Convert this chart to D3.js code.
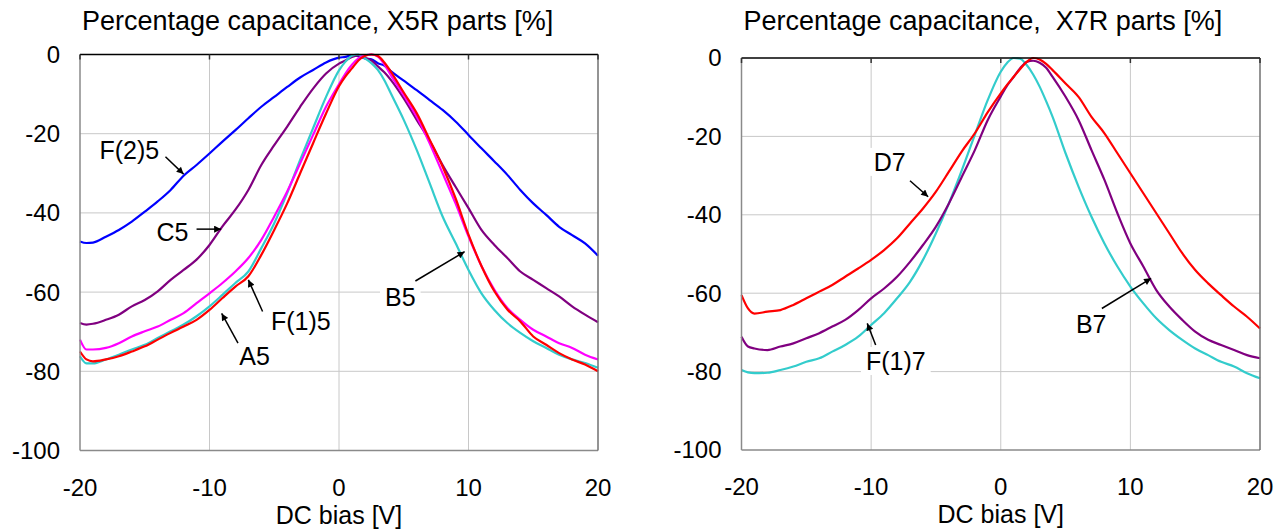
<!DOCTYPE html>
<html>
<head>
<meta charset="utf-8">
<script src="https://cdn.jsdelivr.net/npm/d3@7/dist/d3.min.js"></script>
<style>
  html, body { margin: 0; padding: 0; background: #fff; }
  svg { display: block; }
  text { font-family: "Liberation Sans", Arial, sans-serif; fill: #000; white-space: pre; }
</style>
</head>
<body>
<svg id="chart" width="1286" height="529"></svg>
<script>
// ---------------- DATA ----------------
const bias = [-20,-19.5,-19,-18,-17,-16,-15,-14,-13,-12,-11,-10,-9,-8,-7,-6,-5,-4,-3,-2,-1,
  0,0.5,1,1.5,2,2.5,3,3.5,4,5,6,7,8,9,10,11,12,13,14,15,16,17,18,19,20];

const xTicks = [-20,-10,0,10,20];
const yTicks = [0,-20,-40,-60,-80,-100];

const titleX5R = "Percentage capacitance, X5R parts [%]";
const titleX7R = "Percentage capacitance,  X7R parts [%]";
const xAxisTitle = "DC bias [V]";

// X5R parts
const f25 = [-47.2,-47.6,-47.5,-46,-44.3,-42.2,-39.7,-37.1,-34.2,-30.6,-27.9,-25,-22,-19.1,-16.1,-13.2,-10.7,-8.2,-5.8,-3.9,-2,
  -0.8,-0.6,-0.2,-0.4,-1.0,-1.2,-2.2,-2.8,-4.2,-6.6,-9,-11.5,-14,-16.9,-20.3,-23.7,-27,-30.4,-34.2,-37.6,-40.5,-43.5,-45.6,-47.7,-50.8];
const c5 = [-67.8,-68.2,-68,-67,-65.7,-63.6,-62,-59.8,-56.9,-54.4,-51.8,-48.1,-43.4,-39.2,-34.2,-27.9,-22.9,-18.2,-13.2,-8.6,-4.8,
  -2.3,-1.5,-0.6,-0.3,-0.8,-1.5,-3,-4.5,-6.4,-11.1,-16.5,-21.8,-27.9,-33.4,-38.8,-44.3,-48.1,-51.4,-54.8,-56.9,-59,-61.1,-63.6,-65.7,-67.6];
const b5 = [-76.2,-78,-78,-77,-75.8,-74.5,-73.3,-71.6,-69.9,-68.2,-66.1,-63.6,-60.7,-57.7,-54.8,-48.9,-42.6,-35,-26.6,-18.6,-10.7,
  -4,-1.8,-0.3,0,-1,-2.2,-3.9,-6.5,-9.8,-16.5,-24.1,-32.5,-40.9,-47.6,-54.4,-60.3,-64.5,-67.8,-70.3,-72.4,-74.1,-75.8,-77,-77.9,-79.1];
const f15 = [-72,-74.5,-74.5,-74.1,-72.9,-71.2,-69.9,-68.7,-67,-65.3,-62.8,-60.3,-57.7,-54.8,-51.4,-46.8,-40.9,-34.6,-27.5,-20.3,-13.2,
  -7.5,-4.8,-2.6,-1,-0.2,0,-0.5,-2.5,-5.2,-10.3,-15.7,-22.4,-30,-37.6,-45.9,-53.4,-59.4,-64,-67,-69.5,-71.2,-72.9,-74.1,-75.8,-77];
const a5 = [-75,-77,-77.5,-77,-76.2,-75,-73.7,-72,-70.3,-68.7,-67,-64.5,-61.5,-58.6,-56,-50.6,-44.3,-37.6,-30,-22.4,-14.9,
  -8,-5.5,-3.5,-1.5,-0.4,0,-0.4,-2,-4.3,-9.6,-14.8,-21.5,-28.3,-36.3,-45.5,-53.4,-59.8,-64.4,-67.4,-71.2,-73.3,-75.4,-77,-78.3,-80];

// X7R parts
const d7 = [-60.5,-63.9,-65.2,-64.7,-64.3,-63,-61.3,-59.6,-57.9,-55.8,-53.7,-51.5,-49,-46,-42.2,-38.4,-34.1,-29,-23.8,-19.2,-13.8,
  -9,-6.8,-4.8,-2.8,-1,0,-0.4,-1.5,-3.1,-6.5,-9.9,-15,-19.2,-24.3,-29.4,-34.5,-39.6,-44.7,-49.8,-54.1,-57.5,-60.5,-63.4,-66,-69];
const b7 = [-71.1,-73.6,-74.1,-74.5,-73.6,-72.8,-71.5,-70.2,-68.5,-66.8,-64.3,-61.3,-58.8,-55.8,-52,-47.7,-43,-37.1,-30.3,-23.5,-15.8,
  -9.8,-7,-4.8,-2.6,-1,-0.7,-1.2,-2.5,-4.8,-9.9,-15.8,-23.5,-31.1,-39.6,-47.3,-53.2,-59.2,-63.4,-66.8,-69.8,-71.9,-73.2,-74.5,-75.8,-76.6];
const f17 = [-79.6,-80.2,-80.4,-80.3,-79.6,-78.7,-77.5,-76.6,-74.9,-73.2,-71.1,-68.1,-65.1,-61.3,-57.1,-51.5,-44.7,-37.1,-28.6,-19.6,-10.7,
  -3.5,-1.2,0,-0.2,-1.8,-4.2,-7.3,-11,-15,-24.3,-32.8,-40.5,-47.3,-53.2,-58.3,-62.6,-66.4,-69.4,-71.9,-74.1,-75.8,-77.5,-78.7,-80.4,-81.7];

// annotation labels: text anchor point and arrow (from -> to), in data units
const notesX5R = [
  {label:"F(2)5", tx:-18.5, ty:-26.3, ax1:-13.4, ay1:-25.8, ax2:-12.0, ay2:-30.2},
  {label:"C5",    tx:-14.1, ty:-47.1, ax1:-11.0, ay1:-44.1, ax2:-9.1,  ay2:-44.1},
  {label:"F(1)5", tx:-5.25, ty:-69.6, ax1:-5.9,  ay1:-64.9, ax2:-7.0,  ay2:-56.9},
  {label:"A5",    tx:-7.7,  ty:-78.4, ax1:-7.8,  ay1:-72.9, ax2:-9.06, ay2:-65.4},
  {label:"B5",    tx:3.55,  ty:-63.5, ax1:5.9,   ay1:-57.2, ax2:9.7,   ay2:-49.8}
];
const notesX7R = [
  {label:"D7",    tx:-9.8,  ty:-28.8, ax1:-7.0,  ay1:-31.3, ax2:-5.6,  ay2:-35.4},
  {label:"F(1)7", tx:-10.4, ty:-79.6, ax1:-9.65, ay1:-73.2, ax2:-10.3, ay2:-67.7},
  {label:"B7",    tx:5.8,   ty:-70.2, ax1:7.8,   ay1:-63.9, ax2:11.6,  ay2:-56.2}
];

// ---------------- DRAWING ----------------
const svg = d3.select("#chart");
const defs = svg.append("defs");
defs.append("marker").attr("id","arrow").attr("viewBox","0 0 10 10")
  .attr("refX",10).attr("refY",5).attr("markerWidth",9).attr("markerHeight",7)
  .attr("markerUnits","userSpaceOnUse").attr("orient","auto")
  .append("path").attr("d","M0,0 L10,5 L0,10 z").attr("fill","#000");

function panel(cfg) {
  const x = d3.scaleLinear().domain([-20,20]).range([cfg.x0, cfg.x1]);
  const y = d3.scaleLinear().domain([-100,0]).range([cfg.y1, cfg.y0]);
  const g = svg.append("g");

  // grid
  g.selectAll(".gx").data(xTicks.slice(1,-1)).join("line")
    .attr("x1",d=>x(d)).attr("x2",d=>x(d)).attr("y1",cfg.y0).attr("y2",cfg.y1)
    .attr("stroke","#c8c8c8").attr("stroke-width",1);
  g.selectAll(".gy").data(yTicks.slice(1,-1)).join("line")
    .attr("x1",cfg.x0).attr("x2",cfg.x1).attr("y1",d=>y(d)).attr("y2",d=>y(d))
    .attr("stroke","#c8c8c8").attr("stroke-width",1);

  // series
  const line = d3.line().x((d,i)=>x(bias[i])).y(d=>y(d)).curve(d3.curveMonotoneX);
  cfg.series.forEach(s => {
    g.append("path").datum(s.values).attr("d",line)
      .attr("fill","none").attr("stroke",s.color).attr("stroke-width",2.2)
      .attr("stroke-linejoin","round");
  });

  // frame
  g.append("line").attr("x1",cfg.x0).attr("x2",cfg.x0).attr("y1",cfg.y0).attr("y2",cfg.y1).attr("stroke","#8a8a8a").attr("stroke-width",1.5);
  g.append("line").attr("x1",cfg.x0).attr("x2",cfg.x1).attr("y1",cfg.y1).attr("y2",cfg.y1).attr("stroke","#8a8a8a").attr("stroke-width",1.5);
  g.append("line").attr("x1",cfg.x1).attr("x2",cfg.x1).attr("y1",cfg.y0).attr("y2",cfg.y1).attr("stroke","#707070").attr("stroke-width",1.5);
  g.append("line").attr("x1",cfg.x0).attr("x2",cfg.x1).attr("y1",cfg.y0).attr("y2",cfg.y0).attr("stroke","#000").attr("stroke-width",1.5);
  g.selectAll(".tt").data(xTicks).join("line")
    .attr("x1",d=>x(d)).attr("x2",d=>x(d)).attr("y1",cfg.y0).attr("y2",cfg.y0+5)
    .attr("stroke","#333").attr("stroke-width",1.5);

  // tick labels
  g.selectAll(".yl").data(yTicks).join("text")
    .attr("x",cfg.x0-20).attr("y",d=>y(d)).attr("dy","0.35em")
    .attr("text-anchor","end").attr("font-size",24).text(d=>d);
  g.selectAll(".xl").data(xTicks).join("text")
    .attr("x",d=>x(d)).attr("y",cfg.y1+45).attr("text-anchor","middle")
    .attr("font-size",24).text(d=>d);

  g.append("text").attr("x",(cfg.x0+cfg.x1)/2).attr("y",cfg.y1+73)
    .attr("text-anchor","middle").attr("font-size",25).text(xAxisTitle);
  g.append("text").attr("x",cfg.x0+2).attr("y",30).attr("font-size",27).text(cfg.title);

  // annotations
  cfg.notes.forEach(n => {
    const bg = g.append("rect").attr("fill","#fff");
    const t = g.append("text").attr("x",x(n.tx)).attr("y",y(n.ty)).attr("font-size",25).text(n.label);
    const bb = t.node().getBBox();
    bg.attr("x",bb.x-5).attr("y",bb.y).attr("width",bb.width+10).attr("height",bb.height);
    g.append("line").attr("x1",x(n.ax1)).attr("y1",y(n.ay1)).attr("x2",x(n.ax2)).attr("y2",y(n.ay2))
      .attr("stroke","#000").attr("stroke-width",1.5).attr("marker-end","url(#arrow)");
  });
}

panel({x0:80, x1:598, y0:54.5, y1:450.5, title:titleX5R, notes:notesX5R,
  series:[
    {values:f25, color:"#0000ff"},
    {values:c5,  color:"#800080"},
    {values:b5,  color:"#33cccc"},
    {values:f15, color:"#ff00ff"},
    {values:a5,  color:"#ff0000"}
  ]});
panel({x0:741.5, x1:1260, y0:58, y1:450, title:titleX7R, notes:notesX7R,
  series:[
    {values:f17, color:"#33cccc"},
    {values:b7,  color:"#800080"},
    {values:d7,  color:"#ff0000"}
  ]});
</script>
</body>
</html>
